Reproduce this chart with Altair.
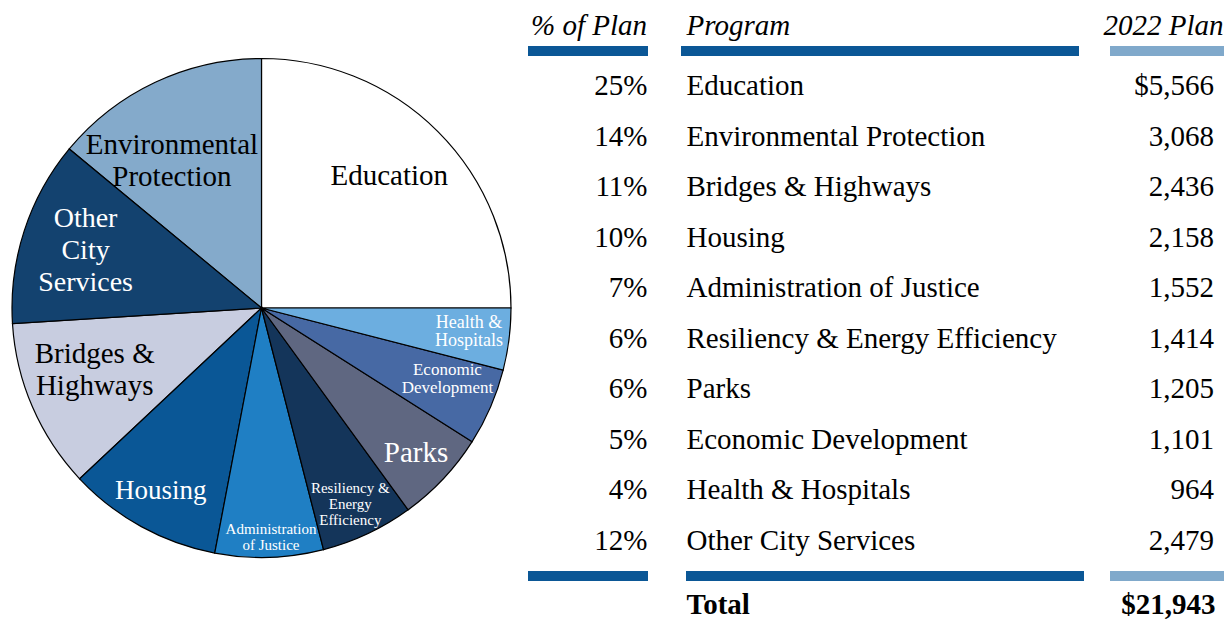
import altair as alt
import pandas as pd

# ---- data ----
programs = ["Education", "Environmental Protection", "Bridges & Highways", "Housing",
            "Administration of Justice", "Resiliency & Energy Efficiency", "Parks",
            "Economic Development", "Health & Hospitals", "Other City Services"]
pct_of_plan = [25, 14, 11, 10, 7, 6, 6, 5, 4, 12]
plan_2022 = [5566, 3068, 2436, 2158, 1552, 1414, 1205, 1101, 964, 2479]
total_2022 = 21943

# clockwise order of the pie slices, starting at 12 o'clock
pie_order = ["Education", "Health & Hospitals", "Economic Development", "Parks",
             "Resiliency & Energy Efficiency", "Administration of Justice", "Housing",
             "Bridges & Highways", "Other City Services", "Environmental Protection"]
pie_labels = {
    "Education": "Education",
    "Environmental Protection": "Environmental\nProtection",
    "Bridges & Highways": "Bridges &\nHighways",
    "Housing": "Housing",
    "Administration of Justice": "Administration\nof Justice",
    "Resiliency & Energy Efficiency": "Resiliency &\nEnergy\nEfficiency",
    "Parks": "Parks",
    "Economic Development": "Economic\nDevelopment",
    "Health & Hospitals": "Health &\nHospitals",
    "Other City Services": "Other\nCity\nServices",
}

# ---- styles ----
FONT = "Liberation Serif"
slice_colors = {
    "Education": "#ffffff",
    "Health & Hospitals": "#6caee0",
    "Economic Development": "#4769a4",
    "Parks": "#5f6781",
    "Resiliency & Energy Efficiency": "#14355a",
    "Administration of Justice": "#1f7fc4",
    "Housing": "#0a5796",
    "Bridges & Highways": "#c8cde0",
    "Other City Services": "#13426f",
    "Environmental Protection": "#84aacb",
}
# radius, font size, colour, theta offset (rad), line height
label_style = {
    "Education": (184, 29, "black", -0.018, 32),
    "Health & Hospitals": (209, 18, "white", -0.01, 18),
    "Economic Development": (199, 17, "white", -0.044, 18),
    "Parks": (212, 29, "white", 0.0, 32),
    "Resiliency & Energy Efficiency": (215, 15, "white", 0.014, 16),
    "Administration of Justice": (229, 15, "white", -0.01, 16),
    "Housing": (209, 27, "white", 0.0, 32),
    "Bridges & Highways": (178, 29, "black", 0.052, 32),
    "Other City Services": (185, 28, "white", 0.0, 32),
    "Environmental Protection": (172, 29, "black", -0.108, 32),
}
DARK = "#0b5796"
LIGHT = "#80a9cb"
CX, CY, R = 253.5, 300, 249.5
W, H = 1216, 612

df = pd.DataFrame({
    "program": programs,
    "pct": pct_of_plan,
    "plan": plan_2022,
    "row": list(range(len(programs))),
})
df["order"] = [pie_order.index(p) for p in programs]
df["pie_label"] = [pie_labels[p] for p in programs]
df["pct_label"] = [f"{v}%" for v in pct_of_plan]
df["plan_label"] = [("$" if i == 0 else "") + f"{v:,}" for i, v in enumerate(plan_2022)]

theta_scale = alt.Scale(domain=[0, 100])

stacked = alt.Chart(df).transform_stack(
    stack="pct", groupby=[], as_=["t0", "t1"], sort=[alt.SortField("order")]
).transform_calculate(mid="(datum.t0 + datum.t1) / 2")

pie = stacked.mark_arc(outerRadius=R, stroke="black", strokeWidth=1.2).encode(
    theta=alt.Theta("t0:Q", scale=theta_scale),
    theta2="t1:Q",
    color=alt.Color("program:N",
                    scale=alt.Scale(domain=pie_order, range=[slice_colors[p] for p in pie_order]),
                    legend=None),
    x=alt.value(CX), y=alt.value(CY),
)

label_layers = []
for name, (rad, fs, col, toff, lh) in label_style.items():
    n_lines = pie_labels[name].count("\n") + 1
    label_layers.append(
        stacked.transform_filter(alt.datum.program == name).mark_text(
            radius=rad, thetaOffset=toff, font=FONT, fontSize=fs, color=col,
            align="center", baseline="middle", lineBreak="\n", lineHeight=lh,
            dy=-(n_lines - 1) * lh / 2,
        ).encode(
            theta=alt.Theta("mid:Q", scale=theta_scale),
            text="pie_label:N",
            x=alt.value(CX), y=alt.value(CY),
        )
    )

FS = 29
row_y = alt.Y("row:Q", scale=alt.Scale(domain=[0, 9], range=[87, 542]), axis=None)
base = alt.Chart(df)
pct_text = base.mark_text(font=FONT, fontSize=FS, align="right", baseline="alphabetic",
                          color="black").encode(x=alt.value(639.5), y=row_y, text="pct_label:N")
prog_text = base.mark_text(font=FONT, fontSize=FS, align="left", baseline="alphabetic",
                           color="black").encode(x=alt.value(678.5), y=row_y, text="program:N")
plan_text = base.mark_text(font=FONT, fontSize=FS, align="right", baseline="alphabetic",
                           color="black").encode(x=alt.value(1206), y=row_y, text="plan_label:N")


def one_text(txt, x, y, align, style="normal", weight="normal"):
    return alt.Chart(pd.DataFrame({"t": [txt]})).mark_text(
        font=FONT, fontSize=FS, align=align, baseline="alphabetic", color="black",
        fontStyle=style, fontWeight=weight,
    ).encode(text="t:N", x=alt.value(x), y=alt.value(y))


def bar(x1, x2, y1, y2, color):
    return alt.Chart(pd.DataFrame({"b": [0]})).mark_rect(color=color).encode(
        x=alt.value(x1), x2=alt.value(x2), y=alt.value(y1), y2=alt.value(y2)
    )


headers = [
    one_text("% of Plan", 639, 27, "right", style="italic"),
    one_text("Program", 678.5, 27, "left", style="italic"),
    one_text("2022 Plan", 1215.5, 27, "right", style="italic"),
]
bars = [
    bar(520, 640, 38, 48, DARK),
    bar(673, 1071, 38, 48, DARK),
    bar(1102, W, 38, 48, LIGHT),
    bar(520, 640, 563, 573, DARK),
    bar(678, 1076, 563, 573, DARK),
    bar(1102, W, 563, 573, LIGHT),
]
totals = [
    one_text("Total", 678.5, 606, "left", weight="bold"),
    one_text(f"${total_2022:,}", 1207.5, 606, "right", weight="bold"),
]

chart = alt.layer(
    pie, *label_layers, pct_text, prog_text, plan_text, *headers, *bars, *totals
).properties(
    width=W, height=H, autosize=alt.AutoSizeParams(type="none"), padding=0,
    background="white",
).configure_view(stroke=None)

chart.save("out.html", embed_options={"renderer": "svg", "actions": False})
